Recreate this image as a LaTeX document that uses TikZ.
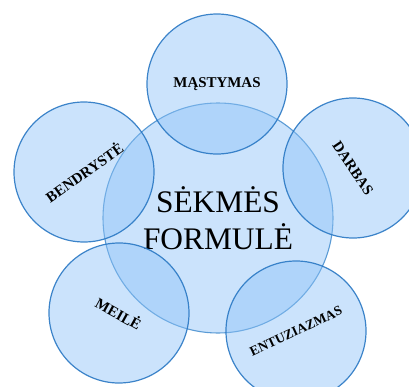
\documentclass[tikz,border=0pt]{standalone}
\usepackage{fontspec}
\setmainfont{Liberation Serif}
\definecolor{bubble}{HTML}{8CC2F8}
\definecolor{rim}{HTML}{2A78C4}
\definecolor{corerim}{HTML}{5B9BD5}
\begin{document}
\begin{tikzpicture}[x=1bp,y=-1bp,
  core/.style={circle,draw=corerim,line width=1.1bp,fill=bubble,fill opacity=.45,text opacity=1,
    minimum size=230bp,inner sep=0pt,align=center,font=\fontsize{31.5}{37}\selectfont},
  petal/.style={circle,draw=rim,line width=1.2bp,draw opacity=.9,fill=bubble,fill opacity=.45,text opacity=1,
    minimum size=140bp,inner sep=0pt,font=\fontsize{15}{17}\selectfont\bfseries}]
\useasboundingbox (0,0) rectangle (409,387);
\clip (0,0) rectangle (409,387);
% centre
\node[core] (formula) at (218,218) {SĖKMĖS\\FORMULĖ};
% petals
\node[petal] (mastymas) at (217,84) {MĄSTYMAS};
\node[petal,rotate=35] (bendryste) at (84,172) {BENDRYSTĖ};
\node[petal,rotate=-56] (darbas) at (353,168) {DARBAS};
\node[petal,rotate=-29] (meile) at (119,313) {MEILĖ};
\node[petal,rotate=25,font=\fontsize{13.5}{15}\selectfont\bfseries] (entuziazmas) at (296,331) {ENTUZIAZMAS};
\end{tikzpicture}
\end{document}
